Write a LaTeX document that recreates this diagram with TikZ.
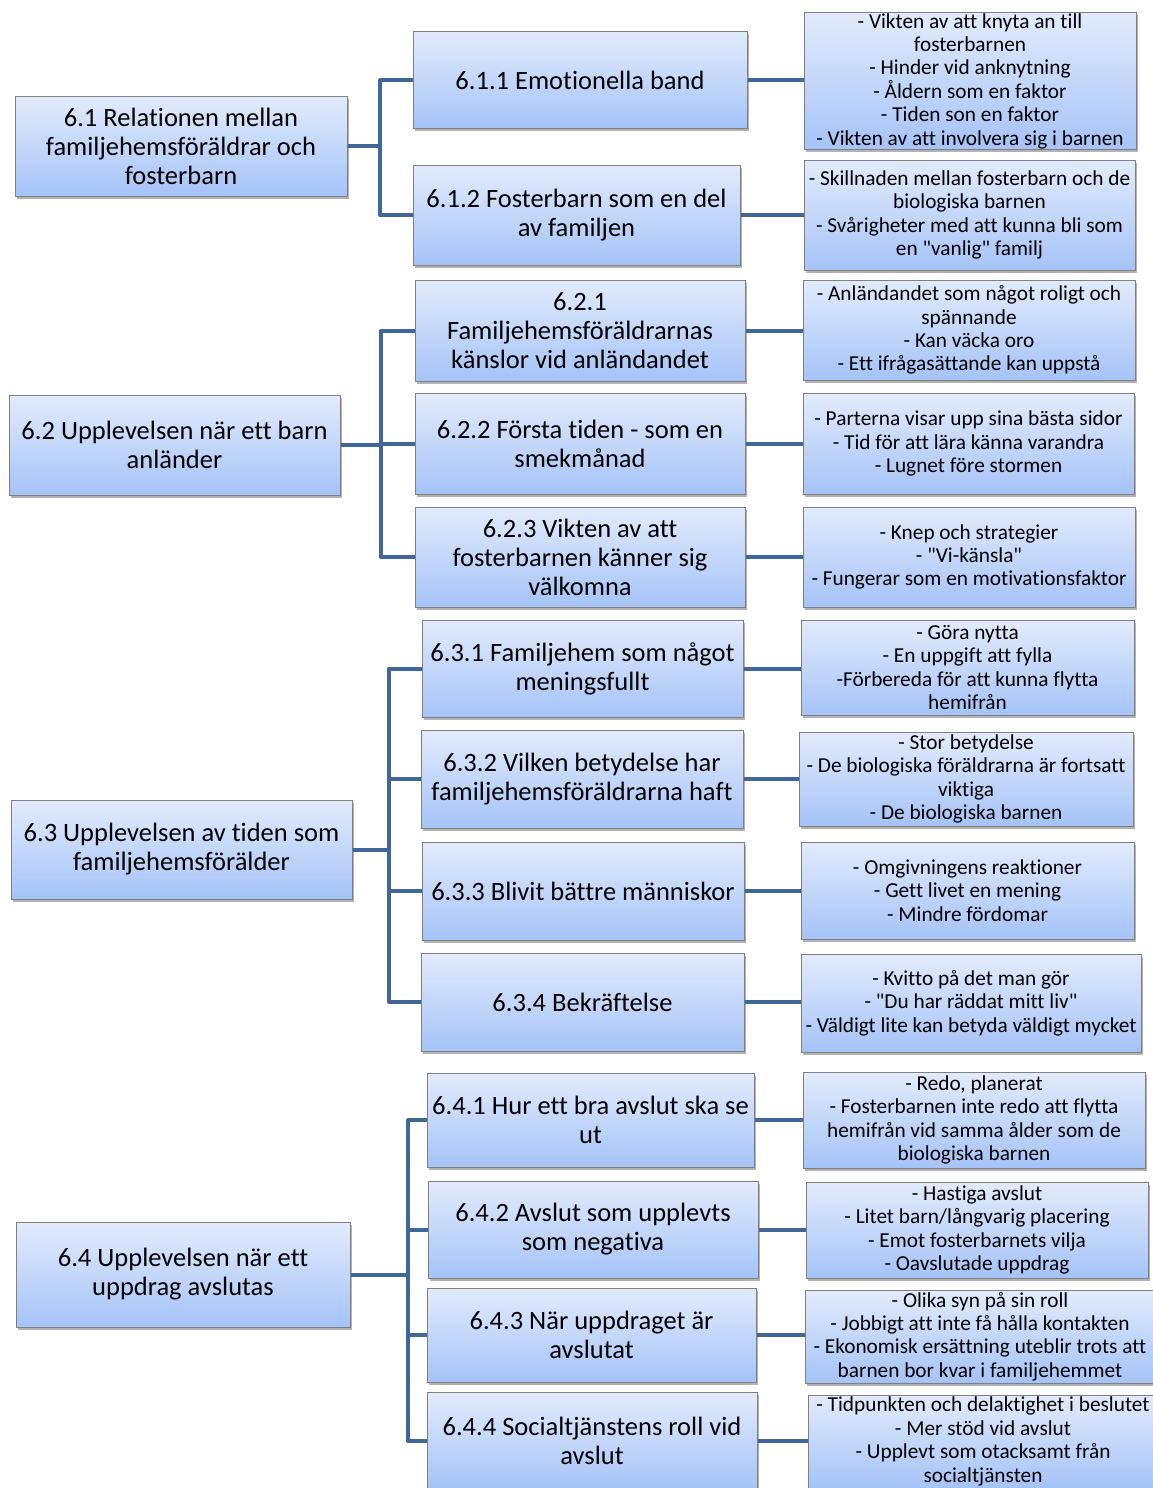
\documentclass[tikz,border=0pt]{standalone}
\usepackage{fontspec}
\setmainfont{Carlito}[Ligatures={TeXOff,NoCommon}]
\usetikzlibrary{shadows}
\definecolor{conncol}{HTML}{41669A}
\definecolor{boxtop}{HTML}{E2EBFC}
\definecolor{boxbot}{HTML}{A5C3F7}
\definecolor{boxline}{HTML}{808080}
\tikzset{
  box/.style={draw=boxline, line width=1pt, top color=boxtop, bottom color=boxbot,
    align=center, inner sep=1pt, text=black,
    drop shadow={shadow xshift=2pt, shadow yshift=-2.5pt, fill=black, opacity=0.3}},
  big/.style={box, font=\fontsize{26.5}{29}\selectfont},
  small/.style={box, font=\fontsize{21.3}{23.4}\selectfont},
  conn/.style={draw=conncol, line width=4pt, line join=round}
}
\newcommand{\bx}[6]{\node[#1, minimum width=#4pt, minimum height=#5pt] (#2) at (#3) {#6};}
\begin{document}
\begin{tikzpicture}[x=1pt, y=-1pt]
\useasboundingbox (0,0) rectangle (1153,1488);
\fill[white] (0,0) rectangle (1153,1488);
% trunk coordinates
\coordinate (t1) at (380,0);
\coordinate (t2) at (381,0);
\coordinate (t3) at (389,0);
\coordinate (t4) at (408,0);

% level 1
\bx{big}{a61}{181,146}{332}{100}{6.1 Relationen mellan\\familjehemsföräldrar och\\fosterbarn}
\bx{big}{a62}{174.5,445}{331}{100}{6.2 Upplevelsen när ett barn\\anländer}
\bx{big}{a63}{181.5,849.5}{341}{99}{6.3 Upplevelsen av tiden som\\familjehemsförälder}
\bx{big}{a64}{183,1274.5}{334}{105}{6.4 Upplevelsen när ett\\uppdrag avslutas}

% level 2
\bx{big}{b611}{580,80}{334}{96}{6.1.1 Emotionella band}
\bx{big}{b612}{576.5,215}{327}{100}{6.1.2 Fosterbarn som en del\\av familjen}
\bx{big}{b621}{580,330.5}{330}{101}{6.2.1\\Familjehemsföräldrarnas\\känslor vid anländandet}
\bx{big}{b622}{580,443.5}{330}{101}{6.2.2 Första tiden - som en\\smekmånad}
\bx{big}{b623}{580,557}{330}{100}{6.2.3 Vikten av att\\fosterbarnen känner sig\\välkomna}
\bx{big}{b631}{582.5,668.5}{321}{97}{6.3.1 Familjehem som något\\meningsfullt}
\bx{big}{b632}{582,779}{322}{98}{6.3.2 Vilken betydelse har\\familjehemsföräldrarna haft}
\bx{big}{b633}{583,891}{322}{98}{6.3.3 Blivit bättre människor}
\bx{big}{b634}{582.5,1002}{323}{98}{6.3.4 Bekräftelse}
\bx{big}{b641}{590.5,1120}{327}{94}{6.4.1 Hur ett bra avslut ska se\\ut}
\bx{big}{b642}{593,1229.5}{330}{97}{6.4.2 Avslut som upplevts\\som negativa}
\bx{big}{b643}{591.5,1335}{329}{94}{6.4.3 När uppdraget är\\avslutat}
\bx{big}{b644}{592,1441}{330}{98}{6.4.4 Socialtjänstens roll vid\\avslut}

% level 3
\bx{small}{c1}{970,81}{332}{136}{- Vikten av att knyta an till\\fosterbarnen\\- Hinder vid anknytning\\- Åldern som en faktor\\- Tiden son en faktor\\- Vikten av att involvera sig i barnen}
\bx{small}{c2}{969.5,215}{331}{110}{- Skillnaden mellan fosterbarn och de\\biologiska barnen\\- Svårigheter med att kunna bli som\\en "vanlig" familj}
\bx{small}{c3}{969,330}{332}{100}{- Anländandet som något roligt och\\spännande\\- Kan väcka oro\\- Ett ifrågasättande kan uppstå}
\bx{small}{c4}{968.5,443.5}{331}{101}{- Parterna visar upp sina bästa sidor\\- Tid för att lära känna varandra\\- Lugnet före stormen}
\bx{small}{c5}{969,557}{332}{100}{- Knep och strategier\\- "Vi-känsla"\\- Fungerar som en motivationsfaktor}
\bx{small}{c6}{967.5,667.5}{333}{95}{- Göra nytta\\- En uppgift att fylla\\-Förbereda för att kunna flytta\\hemifrån}
\bx{small}{c7}{966,779}{334}{94}{- Stor betydelse\\- De biologiska föräldrarna är fortsatt\\viktiga\\- De biologiska barnen}
\bx{small}{c8}{967.5,890.5}{333}{97}{- Omgivningens reaktioner\\- Gett livet en mening\\- Mindre fördomar}
\bx{small}{c9}{971,1003}{340}{98}{- Kvitto på det man gör\\- "Du har räddat mitt liv"\\- Väldigt lite kan betyda väldigt mycket}
\bx{small}{c10}{974,1120}{342}{96}{- Redo, planerat\\- Fosterbarnen inte redo att flytta\\hemifrån vid samma ålder som de\\biologiska barnen}
\bx{small}{c11}{977,1230}{342}{96}{- Hastiga avslut\\- Litet barn/långvarig placering\\- Emot fosterbarnets vilja\\- Oavslutade uppdrag}
\bx{small}{c12}{980,1336.5}{350}{93}{- Olika syn på sin roll\\- Jobbigt att inte få hålla kontakten\\- Ekonomisk ersättning uteblir trots att\\barnen bor kvar i familjehemmet}
\bx{small}{c13}{983,1441.5}{350}{93}{- Tidpunkten och delaktighet i beslutet\\- Mer stöd vid avslut\\- Upplevt som otacksamt från\\socialtjänsten}

% connectors level1 -> level2
\foreach \p/\t/\kids in {a61/t1/{b611,b612}, a62/t2/{b621,b622,b623}, a63/t3/{b631,b632,b633,b634}, a64/t4/{b641,b642,b643,b644}}{
  \foreach \k in \kids {
    \draw[conn] (\p.east) -| (\t |- \k.west) -- (\k.west);
  }
}
% connectors level2 -> level3
\foreach \b/\c in {b611/c1, b612/c2, b621/c3, b622/c4, b623/c5, b631/c6, b632/c7, b633/c8, b634/c9, b641/c10, b642/c11, b643/c12, b644/c13}{
  \draw[conn] (\b.east) -- (\b.east -| \c.west);
}
\end{tikzpicture}
\end{document}
